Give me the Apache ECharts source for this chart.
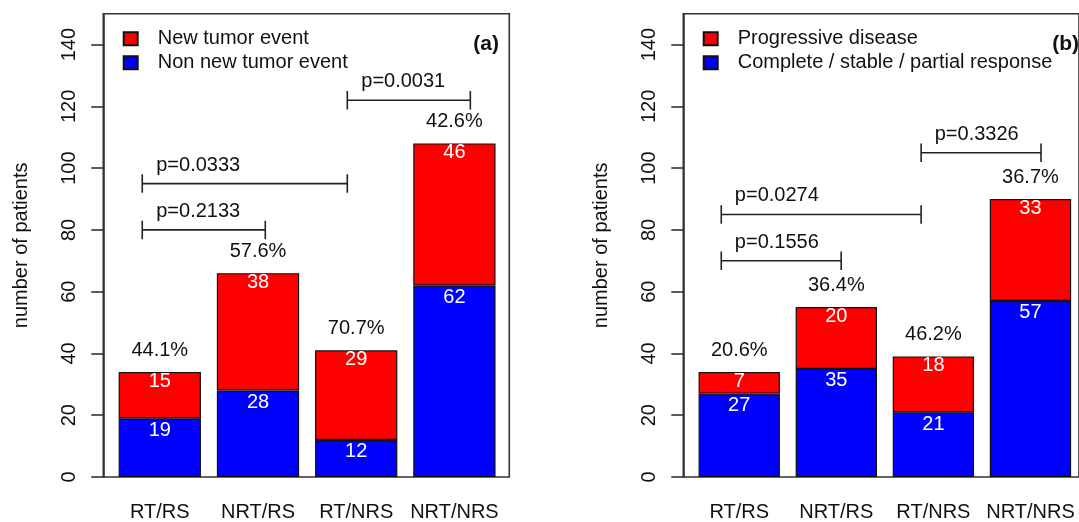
<!DOCTYPE html>
<html>
<head>
<meta charset="utf-8">
<script src="https://cdn.jsdelivr.net/npm/echarts@6/dist/echarts.min.js"></script>
<style>
html,body{margin:0;padding:0;background:#fff;}
#chart{width:1079px;height:522px;}
</style>
</head>
<body>
<div id="chart"></div>
<script>
// ---- data ----
const categories = ['RT/RS', 'NRT/RS', 'RT/NRS', 'NRT/NRS'];
const yTicks = [0, 20, 40, 60, 80, 100, 120, 140];

const aNames = ['New tumor event', 'Non new tumor event'];
const aRed = [15, 38, 29, 46];
const aBlue = [19, 28, 12, 62];
const aBracketX1 = [0.5, 0.5, 3.0];
const aBracketX2 = [2.0, 3.0, 4.5];
const aBracketY = [80, 95, 122];
const aPLabels = ['p=0.2133', 'p=0.0333', 'p=0.0031'];

const bNames = ['Progressive disease', 'Complete / stable / partial response'];
const bRed = [7, 20, 18, 33];
const bBlue = [27, 35, 21, 57];
const bBracketX1 = [0.5, 0.5, 3.0];
const bBracketX2 = [2.0, 3.0, 4.5];
const bBracketY = [70, 85, 105];
const bPLabels = ['p=0.1556', 'p=0.0274', 'p=0.3326'];

const panelTags = ['(a)', '(b)'];

// ---- styling / layout ----
const FONT = "'Liberation Sans', Arial, sans-serif";
const FS = 20;
const TXT = '#111';
const LINE = '#222';
const RED = '#ff0000';
const BLUE = '#0000ff';
const BOX_L = 103.3, BOX_W = 406, BOX_T = 13.7, BOX_H = 463.3;
const BAR_L = 110.7, BAR_W = 392.8;
const OFF = 580;
const YMAX = 150;

const chart = echarts.init(document.getElementById('chart'), null, {renderer: 'canvas'});

const grids = [], xAxes = [], yAxes = [], series = [], legends = [], titles = [];

function panel(p, names, red, blue, bx1, bx2, by, plabels, tag) {
  const off = p * OFF;
  const gBox = p * 2, gBar = p * 2 + 1;
  grids.push({left: BOX_L + off, top: BOX_T, width: BOX_W, height: BOX_H,
    show: true, borderColor: '#333', borderWidth: 1.6, backgroundColor: 'transparent', containLabel: false});
  grids.push({left: BAR_L + off, top: BOX_T, width: BAR_W, height: BOX_H, containLabel: false});

  xAxes.push({type: 'value', gridIndex: gBox, min: 0.025, max: 4.975, show: false});
  xAxes.push({type: 'category', gridIndex: gBar, data: categories, boundaryGap: true,
    axisLine: {show: false}, axisTick: {show: false}, splitLine: {show: false},
    axisLabel: {fontSize: FS, fontFamily: FONT, color: TXT, margin: 25, interval: 0}});

  yAxes.push({type: 'value', gridIndex: gBox, min: 0, max: YMAX, interval: 20,
    name: 'number of patients', nameLocation: 'middle', nameGap: 72, nameRotate: 90,
    nameTextStyle: {fontSize: FS, fontFamily: FONT, color: TXT},
    axisLine: {show: true, lineStyle: {color: '#333', width: 1.6}},
    axisTick: {show: true, inside: false, length: 12, lineStyle: {color: '#333', width: 1.6}, customValues: yTicks},
    axisLabel: {rotate: 90, fontSize: FS, fontFamily: FONT, color: TXT, margin: 24, customValues: yTicks},
    splitLine: {show: false}});
  yAxes.push({type: 'value', gridIndex: gBar, min: 0, max: YMAX, show: false});

  const xb = p * 2 + 1, yb = p * 2 + 1;
  series.push({name: names[1], type: 'bar', stack: 's' + p, xAxisIndex: xb, yAxisIndex: yb,
    data: blue, barWidth: '83.8%',
    itemStyle: {color: BLUE, borderColor: '#111', borderWidth: 1.2},
    label: {show: true, position: 'insideTop', distance: 2, color: '#fff', fontSize: FS, fontFamily: FONT}});
  series.push({name: names[0], type: 'bar', stack: 's' + p, xAxisIndex: xb, yAxisIndex: yb,
    data: red, barWidth: '83.8%',
    itemStyle: {color: RED, borderColor: '#111', borderWidth: 1.2},
    label: {show: true, position: 'insideTop', distance: -1, color: '#fff', fontSize: FS, fontFamily: FONT}});

  // percentage labels above bars
  const totals = red.map((r, i) => r + blue[i]);
  series.push({type: 'scatter', xAxisIndex: xb, yAxisIndex: yb, symbolSize: 0, silent: true,
    itemStyle: {opacity: 1},
    data: totals.map((t, i) => [i, t + 7]),
    label: {show: true, position: 'inside', color: TXT, opacity: 1, fontSize: FS, fontFamily: FONT,
      formatter: (pr) => (red[pr.dataIndex] / totals[pr.dataIndex] * 100).toFixed(1) + '%'}});

  // brackets
  const cap = 3;
  series.push({type: 'lines', coordinateSystem: 'cartesian2d', xAxisIndex: gBox, yAxisIndex: gBox,
    polyline: true, silent: true,
    lineStyle: {color: LINE, width: 1.6, opacity: 1},
    data: by.map((y, i) => ({coords: [[bx1[i], y - cap], [bx1[i], y + cap], [bx1[i], y],
      [bx2[i], y], [bx2[i], y + cap], [bx2[i], y - cap]]}))});
  // p-value texts
  series.push({type: 'scatter', xAxisIndex: gBox, yAxisIndex: gBox, symbolSize: 0, silent: true,
    itemStyle: {opacity: 1},
    data: by.map((y, i) => [bx1[i] + 0.17, y + 6]),
    label: {show: true, position: 'inside', align: 'left', color: TXT, opacity: 1, fontSize: FS, fontFamily: FONT,
      formatter: (pr) => plabels[pr.dataIndex]}});

  legends.push({data: [names[0], names[1]], orient: 'vertical', left: 122.7 + off, top: 28.8,
    padding: 0, itemGap: 4, itemWidth: 14, itemHeight: 13, icon: 'rect',
    textStyle: {fontSize: FS, fontFamily: FONT, color: TXT, padding: [0, 0, 0, 15]},
    selectedMode: false});

  titles.push({text: tag, right: p === 0 ? 1079 - 499 : 0, top: 34, padding: 0,
    textStyle: {fontSize: 21, fontFamily: FONT, fontWeight: 'bold', color: TXT}});
}

panel(0, aNames, aRed, aBlue, aBracketX1, aBracketX2, aBracketY, aPLabels, panelTags[0]);
panel(1, bNames, bRed, bBlue, bBracketX1, bBracketX2, bBracketY, bPLabels, panelTags[1]);

chart.setOption({
  animation: false,
  backgroundColor: '#fff',
  textStyle: {fontFamily: FONT},
  title: titles,
  legend: legends,
  grid: grids,
  xAxis: xAxes,
  yAxis: yAxes,
  series: series
});
</script>
</body>
</html>
